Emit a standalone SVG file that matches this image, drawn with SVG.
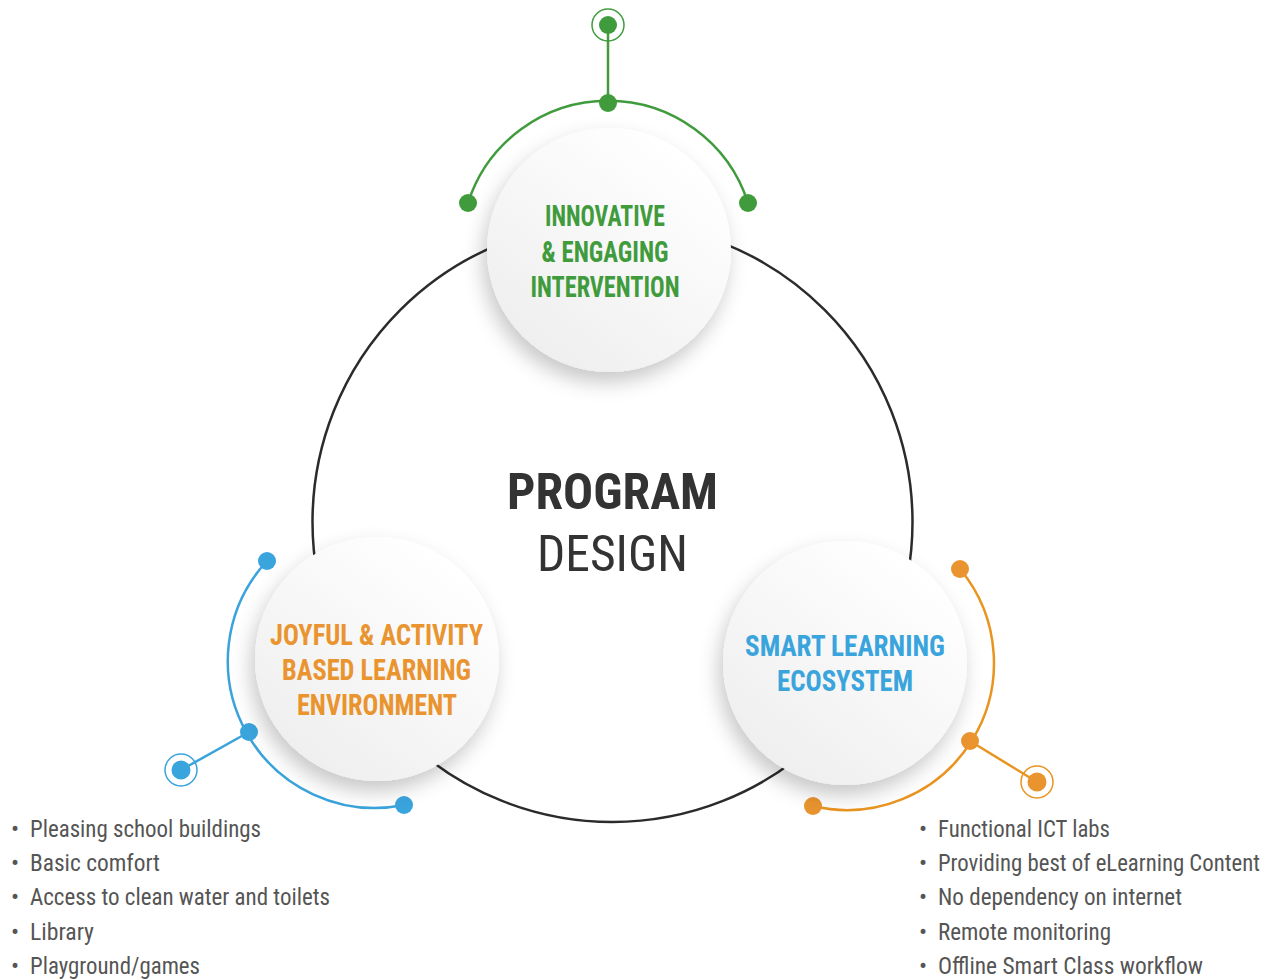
<svg xmlns="http://www.w3.org/2000/svg" width="1273" height="980" viewBox="0 0 1273 980">
<defs>
<linearGradient id="nodeFill" x1="0.8" y1="0.1" x2="0.2" y2="0.9">
<stop offset="0" stop-color="#ffffff"/>
<stop offset="1" stop-color="#efefef"/>
</linearGradient>
<filter id="shadow" x="-30%" y="-30%" width="160%" height="170%">
<feDropShadow dx="-4" dy="10" stdDeviation="10" flood-color="#000" flood-opacity="0.22"/>
</filter>
<style>
.node{fill:url(#nodeFill);filter:url(#shadow)}
.lbl{font-family:"Liberation Sans Narrow","Roboto Condensed","Liberation Sans",sans-serif;font-weight:bold;font-size:29px;text-anchor:middle}
.g{fill:#409b3c}.o{fill:#e9942f}.b{fill:#3aa4dd}
.gs{stroke:#409b3c}.os{stroke:#e9941f}.bs{stroke:#3aa3dc}
.conn{fill:none;stroke-width:2.5}
.ring{fill:none;stroke-width:1.5}
.list{font-family:"Liberation Sans Narrow","Roboto Condensed","Liberation Sans",sans-serif;font-size:24px;fill:#555}
.title{font-family:"Liberation Sans Narrow","Roboto Condensed","Liberation Sans",sans-serif;fill:#333;text-anchor:middle}
</style>
</defs>
<rect width="1273" height="980" fill="#ffffff"/>
<circle id="main-circle" cx="612.5" cy="522" r="300" fill="none" stroke="#2b2b2b" stroke-width="2.5"/>
<g id="connectors">
<path class="conn gs" d="M468 203 A147 147 0 0 1 748 203"/>
<line class="conn gs" x1="608" y1="103" x2="608" y2="25"/>
<path class="conn bs" d="M267 561 A147 147 0 0 0 404 805"/>
<line class="conn bs" x1="249" y1="732" x2="181" y2="770"/>
<path class="conn os" d="M960 569 A147 147 0 0 1 813 806"/>
<line class="conn os" x1="970" y1="741" x2="1037" y2="782"/>
<g class="g"><circle cx="468" cy="203" r="9"/><circle cx="748" cy="203" r="9"/><circle cx="608" cy="103" r="9"/><circle cx="608" cy="25" r="9"/></g>
<circle class="ring gs" cx="608" cy="25" r="16"/>
<g class="b"><circle cx="267" cy="561" r="9"/><circle cx="404" cy="805" r="9"/><circle cx="249" cy="732" r="9"/><circle cx="181" cy="770" r="9.5"/></g>
<circle class="ring bs" cx="181" cy="770" r="16"/>
<g class="o"><circle cx="960" cy="569" r="9"/><circle cx="813" cy="806" r="9"/><circle cx="970" cy="741" r="9"/><circle cx="1037" cy="782" r="9.5"/></g>
<circle class="ring os" cx="1037" cy="782" r="16"/>
</g>
<g id="node-top">
<circle class="node" cx="609" cy="250" r="122"/>
<text class="lbl g" x="605" y="226" textLength="120" lengthAdjust="spacingAndGlyphs">INNOVATIVE</text>
<text class="lbl g" x="605" y="262" textLength="127" lengthAdjust="spacingAndGlyphs">&amp; ENGAGING</text>
<text class="lbl g" x="605" y="297" textLength="149" lengthAdjust="spacingAndGlyphs">INTERVENTION</text>
</g>
<g id="node-left">
<circle class="node" cx="377" cy="659" r="122"/>
<text class="lbl o" x="376.5" y="645" textLength="213" lengthAdjust="spacingAndGlyphs">JOYFUL &amp; ACTIVITY</text>
<text class="lbl o" x="376.5" y="680" textLength="189" lengthAdjust="spacingAndGlyphs">BASED LEARNING</text>
<text class="lbl o" x="377" y="715" textLength="160" lengthAdjust="spacingAndGlyphs">ENVIRONMENT</text>
</g>
<g id="node-right">
<circle class="node" cx="845" cy="663" r="122"/>
<text class="lbl b" x="845" y="656" textLength="200" lengthAdjust="spacingAndGlyphs">SMART LEARNING</text>
<text class="lbl b" x="845" y="691" textLength="136" lengthAdjust="spacingAndGlyphs">ECOSYSTEM</text>
</g>
<g id="center-title">
<text class="title" x="612.5" y="509" font-size="50" font-weight="bold" textLength="211" lengthAdjust="spacingAndGlyphs">PROGRAM</text>
<text class="title" x="612.5" y="571" font-size="50" textLength="151" lengthAdjust="spacingAndGlyphs">DESIGN</text>
</g>
<g id="list-left" class="list">
<text x="11" y="837">•</text><text x="30" y="837" textLength="231" lengthAdjust="spacingAndGlyphs">Pleasing school buildings</text>
<text x="11" y="871">•</text><text x="30" y="871" textLength="130" lengthAdjust="spacingAndGlyphs">Basic comfort</text>
<text x="11" y="905">•</text><text x="30" y="905" textLength="300" lengthAdjust="spacingAndGlyphs">Access to clean water and toilets</text>
<text x="11" y="940">•</text><text x="30" y="940" textLength="64" lengthAdjust="spacingAndGlyphs">Library</text>
<text x="11" y="974">•</text><text x="30" y="974" textLength="170" lengthAdjust="spacingAndGlyphs">Playground/games</text>
</g>
<g id="list-right" class="list">
<text x="919" y="837">•</text><text x="938" y="837" textLength="172" lengthAdjust="spacingAndGlyphs">Functional ICT labs</text>
<text x="919" y="871">•</text><text transform="translate(938 871) scale(0.87 1)" x="0" y="0" textLength="370" lengthAdjust="spacingAndGlyphs">Providing best of eLearning Content</text>
<text x="919" y="905">•</text><text x="938" y="905" textLength="244" lengthAdjust="spacingAndGlyphs">No dependency on internet</text>
<text x="919" y="940">•</text><text x="938" y="940" textLength="173" lengthAdjust="spacingAndGlyphs">Remote monitoring</text>
<text x="919" y="974">•</text><text x="938" y="974" textLength="265" lengthAdjust="spacingAndGlyphs">Offline Smart Class workflow</text>
</g>
</svg>
